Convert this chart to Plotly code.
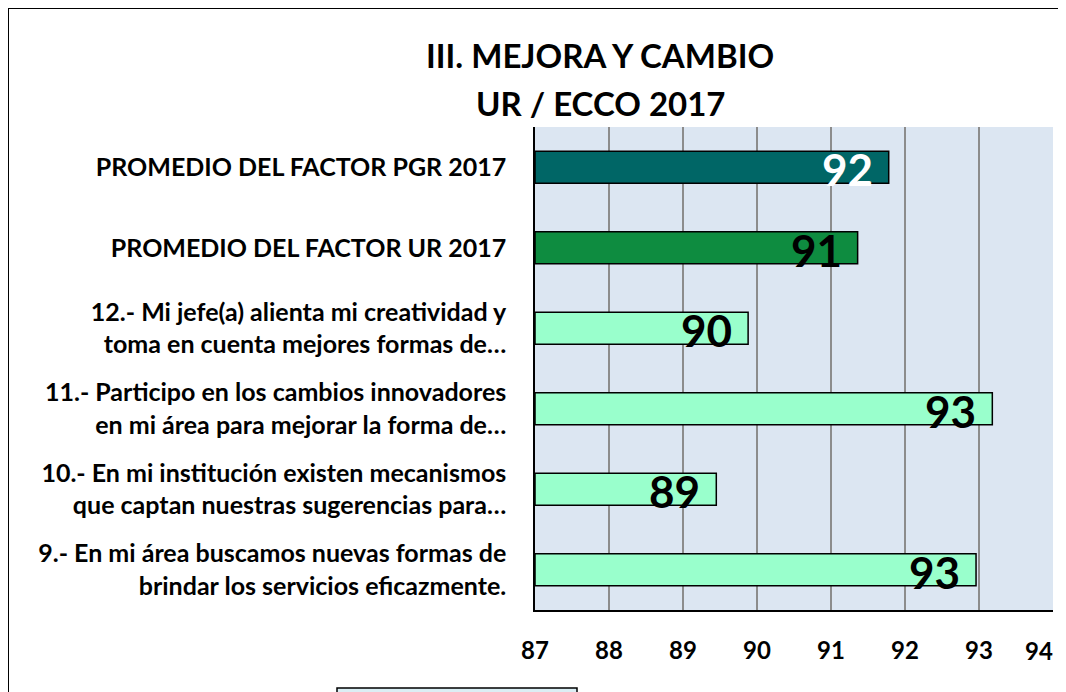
import plotly.graph_objects as go

categories = [
    "PROMEDIO DEL FACTOR PGR 2017",
    "PROMEDIO DEL FACTOR UR 2017",
    "12.- Mi jefe(a) alienta mi creatividad y<br>toma en cuenta mejores formas de…",
    "11.- Participo en los cambios innovadores<br>en mi área para mejorar la forma de…",
    "10.- En mi institución existen mecanismos<br>que captan nuestras sugerencias para…",
    "9.- En mi área buscamos nuevas formas de<br>brindar los servicios eficazmente.",
]
values = [91.78, 91.36, 89.88, 93.18, 89.45, 92.96]
labels = ["92", "91", "90", "93", "89", "93"]
bar_colors = ["#006666", "#0E8C40", "#99FFCC", "#99FFCC", "#99FFCC", "#99FFCC"]
label_colors = ["white", "black", "black", "black", "black", "black"]
tick_vals = [87, 88, 89, 90, 91, 92, 93, 94]
title_lines = ["III. MEJORA Y CAMBIO", "UR / ECCO 2017"]
axis_min = 87

FONT = "Lato"
W, H = 1066, 692
OFF = 8  # page body margin offset
# plot area in screen pixels: x 535..1053, y 127..610
SL, SR, ST, SB = 535, 1053, 127, 610
L, T = SL - OFF, ST - OFF
R = W - (SR - OFF)
B = H - (SB - OFF)
pw, ph = SR - SL, SB - ST


def px(x):
    return (x - SL) / pw


def py(y):
    return (SB - y) / ph


fig = go.Figure()
fig.add_trace(go.Bar(
    y=categories,
    x=[v - axis_min for v in values],
    base=axis_min,
    orientation="h",
    marker=dict(color=bar_colors, line=dict(color="black", width=1.5)),
    hoverinfo="skip",
))

for cat, val, lab, col in zip(categories, values, labels, label_colors):
    fig.add_annotation(x=val, y=cat, xref="x", yref="y", text=lab,
                       showarrow=False, xanchor="right", yanchor="middle",
                       xshift=-14, yshift=-2,
                       font=dict(family=FONT, size=44, color=col, weight="bold"))

tick_font = dict(family=FONT, size=24, color="black", weight="bold")
# last tick label placed as annotation so it stays inside the visible page
tick_text = [str(v) for v in tick_vals[:-1]] + [""]
fig.add_annotation(x=tick_vals[-1], y=py(650), xref="x", yref="paper",
                   text=str(tick_vals[-1]), showarrow=False,
                   xanchor="right", yanchor="middle", xshift=2, font=tick_font)

fig.update_layout(
    autosize=False,
    width=W, height=H,
    margin=dict(l=L, r=R, t=T, b=B, autoexpand=False),
    paper_bgcolor="white",
    plot_bgcolor="#DCE6F2",
    showlegend=False,
    bargap=0.6,
    xaxis=dict(
        range=[87, 94],
        tickvals=tick_vals,
        ticktext=tick_text,
        showgrid=True, gridcolor="#8C8C8C", gridwidth=1.5,
        showline=True, linecolor="black", linewidth=1.5,
        ticks="", ticklabelstandoff=18,
        tickfont=tick_font,
        zeroline=False, fixedrange=True,
    ),
    yaxis=dict(
        autorange="reversed",
        showline=True, linecolor="black", linewidth=1.5,
        showgrid=False, ticks="", ticklabelstandoff=22,
        tickfont=dict(family=FONT, size=25, color="black", weight="bold"),
        fixedrange=True,
    ),
)

fig.add_annotation(x=px(600), y=py(55), xref="paper", yref="paper", text=title_lines[0],
                   showarrow=False, xanchor="center", yanchor="middle",
                   font=dict(family=FONT, size=33, color="black", weight="bold"))
fig.add_annotation(x=px(600), y=py(103), xref="paper", yref="paper", text=title_lines[1],
                   showarrow=False, xanchor="center", yanchor="middle",
                   font=dict(family=FONT, size=33, color="black", weight="bold"))

# outer chart frame (cropped on right/bottom)
fig.add_shape(type="rect", xref="paper", yref="paper",
              x0=px(8), x1=px(1080), y0=py(710), y1=py(8),
              line=dict(color="black", width=2), fillcolor="rgba(0,0,0,0)", layer="above")
# legend box peeking at bottom
fig.add_shape(type="rect", xref="paper", yref="paper",
              x0=px(337), x1=px(577), y0=py(710), y1=py(688),
              line=dict(color="black", width=1.5), fillcolor="#DBEEF4", layer="above")

fig.write_html("out.html", config={"responsive": False})
